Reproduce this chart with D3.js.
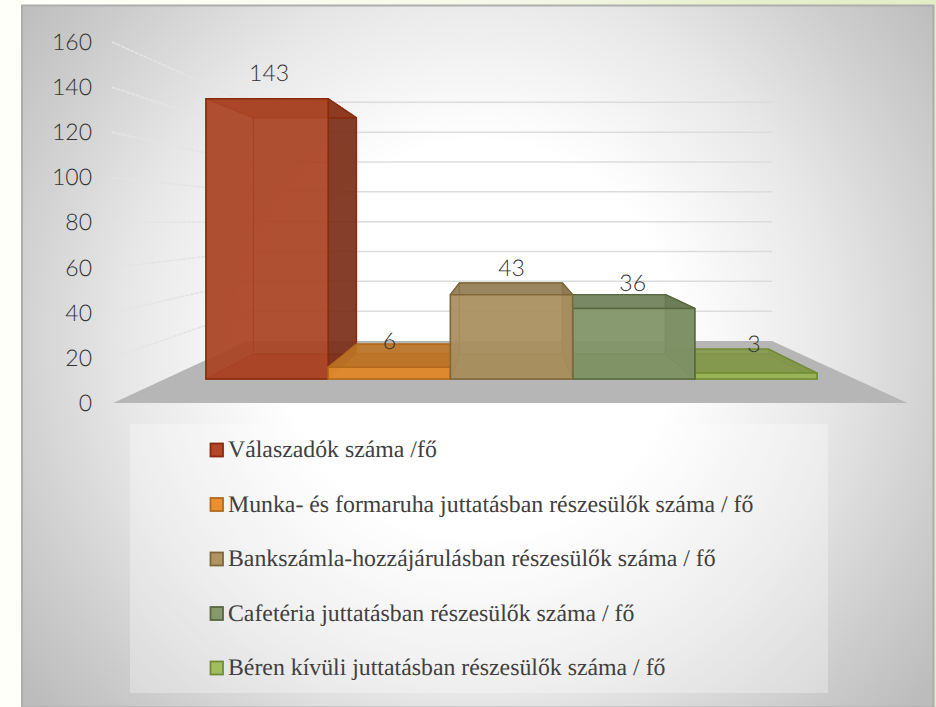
<!DOCTYPE html>
<html><head><meta charset="utf-8">
<script src="https://cdn.jsdelivr.net/npm/d3@7/dist/d3.min.js"></script>
<style>html,body{margin:0;padding:0;background:#fff}svg{display:block}text{text-rendering:geometricPrecision}</style></head>
<body><svg id="c" width="936" height="707"></svg>
<script>
const categories=["Válaszadók száma /fő","Munka- és formaruha juttatásban részesülők száma / fő","Bankszámla-hozzájárulásban részesülők száma / fő","Cafetéria juttatásban részesülők száma / fő","Béren kívüli juttatásban részesülők száma / fő"];
const values=[143,6,43,36,3];
const colors=["#ab4526","#e08a2e","#a98f5f","#7f9367","#9bb55a"];
const edgeColors=["#8a2a0c","#b4691c","#80673a","#59693f","#728c32"];
const ticks=[0,20,40,60,80,100,120,140,160];

const W=936,H=707,svg=d3.select("#c");
const defs=svg.append("defs");
const pg=defs.append("linearGradient").attr("id","page");
pg.append("stop").attr("offset","0").attr("stop-color","#fffffa");
pg.append("stop").attr("offset","0.5").attr("stop-color","#f7f9ea");
pg.append("stop").attr("offset","0.8").attr("stop-color","#e6efcc");
pg.append("stop").attr("offset","1").attr("stop-color","#e3edc6");
const rg=defs.append("radialGradient").attr("id","panel").attr("gradientUnits","userSpaceOnUse")
 .attr("cx",478).attr("cy",340).attr("r",600);
[[.33,"#ffffff"],[.58,"#e8e8e8"],[.8,"#cdcdcd"],[.95,"#bcbcbc"]].forEach(s=>rg.append("stop").attr("offset",s[0]).attr("stop-color",s[1]));

svg.append("rect").attr("width",W).attr("height",H).attr("fill","url(#page)");
svg.append("rect").attr("x",22).attr("y",5.5).attr("width",911.5).attr("height",702)
 .attr("fill","url(#panel)").attr("stroke","#adadad").attr("stroke-width",2);

// perspective
const VX=508,VY=220;
const sFront=1.151,sBarBack=0.843,sBack=0.761;
const x=d3.scaleBand().domain(categories).range([206,817]).padding(0);
const y=d3.scaleLinear().domain([0,160]).range([379,379-1.96*160]);
const xL=165,xR=855;
const P=(px,v,s)=>[VX+(px-VX)*s,VY+(y(v)-VY)*s];
const line=d3.line(),poly=p=>line(p)+"Z";

// floor
svg.append("path").attr("d",poly([P(xL,0,sFront),P(xR,0,sFront),P(xR,0,sBack),P(xL,0,sBack)])).attr("fill","#b6b6b6");

// grid
const g=svg.append("g");
ticks.filter(t=>t>0).forEach(t=>{
  g.append("path").attr("d",line([P(xL,t,sBack),P(xR,t,sBack)])).attr("fill","none").attr("stroke","#dcdcdc").attr("stroke-width",1.5);
  g.append("path").attr("d",line([P(xL-1,t,sFront),P(xL,t,sBack)])).attr("fill","none").attr("stroke","#e4e4e4").attr("stroke-width",1.6).attr("stroke-dasharray","4 1");
});

// axis
const axisScale=d3.scaleLinear().domain([0,160]).range([P(xL,0,sFront)[1],P(xL,160,sFront)[1]]);
const ax=svg.append("g").attr("transform","translate(92,0)")
 .call(d3.axisLeft(axisScale).tickValues(ticks).tickSize(0).tickPadding(0));
ax.select(".domain").remove();
ax.selectAll("text").attr("font-family","Lato").attr("font-weight",300).attr("font-size",23).attr("fill","#333");

// bars
const order=[0,1,4,3,2];
order.forEach(i=>{
  const c=categories[i],v=values[i],col=colors[i],edge=edgeColors[i];
  const l=x(c),r=l+x.bandwidth();
  const fb=[P(l,0,sBarBack),P(r,0,sBarBack),P(r,v,sBarBack),P(l,v,sBarBack)];
  const ff=[P(l,0,1),P(r,0,1),P(r,v,1),P(l,v,1)];
  const face=(pts,fill,op,sw)=>svg.append("path").attr("d",poly(pts)).attr("fill",fill).attr("fill-opacity",op)
      .attr("stroke",edge).attr("stroke-width",sw).attr("stroke-linejoin","round");
  const darkest=d3.color(col).darker(.95).formatHex();
  const dark=d3.color(col).darker(.5).formatHex();
  const mid=d3.color(col).darker(.25).formatHex();
  face(fb,col,.4,1.2);
  face([ff[0],ff[1],fb[1],fb[0]],mid,.85,1.2);
  face([ff[0],ff[3],fb[3],fb[0]],col,.4,1.2);
  face([ff[1],ff[2],fb[2],fb[1]],i<2?darkest:dark,.9,1.3);
  face([ff[3],ff[2],fb[2],fb[3]],dark,.85,1.3);
  face(ff,col,.9,1.5);
});

// value labels
svg.selectAll("text.val").data(values).join("text").attr("class","val")
 .attr("x",(d,i)=>x(categories[i])+x.bandwidth()/2+(i==0?2:i==3?-1:i==4?-2:0))
 .attr("y",(d,i)=>Math.min(P(0,d,sBarBack)[1],P(0,d,1)[1])+[-18,5,-7,-4,3][i])
 .attr("text-anchor","middle").attr("font-family","Lato").attr("font-weight",300).attr("font-size",23).attr("fill","#333")
 .text(d=>d);

// legend
svg.append("rect").attr("x",130).attr("y",424).attr("width",698).attr("height",269).attr("fill","#fff").attr("fill-opacity",.3);
const ly=d3.scalePoint().domain(categories).range([450,668]);
const lg=svg.selectAll("g.l").data(categories).join("g").attr("class","l").attr("transform",d=>`translate(0,${ly(d)})`);
lg.append("rect").attr("x",210.5).attr("y",-6.5).attr("width",12.5).attr("height",13)
 .attr("fill",(d,i)=>d3.color(colors[i]).brighter(.12).formatHex()).attr("stroke",(d,i)=>edgeColors[i]).attr("stroke-width",1.8);
lg.append("text").attr("x",228).attr("y",7).attr("font-family","Liberation Serif").attr("font-size",23.8).attr("fill","#404040").text(d=>d);
</script></body></html>
